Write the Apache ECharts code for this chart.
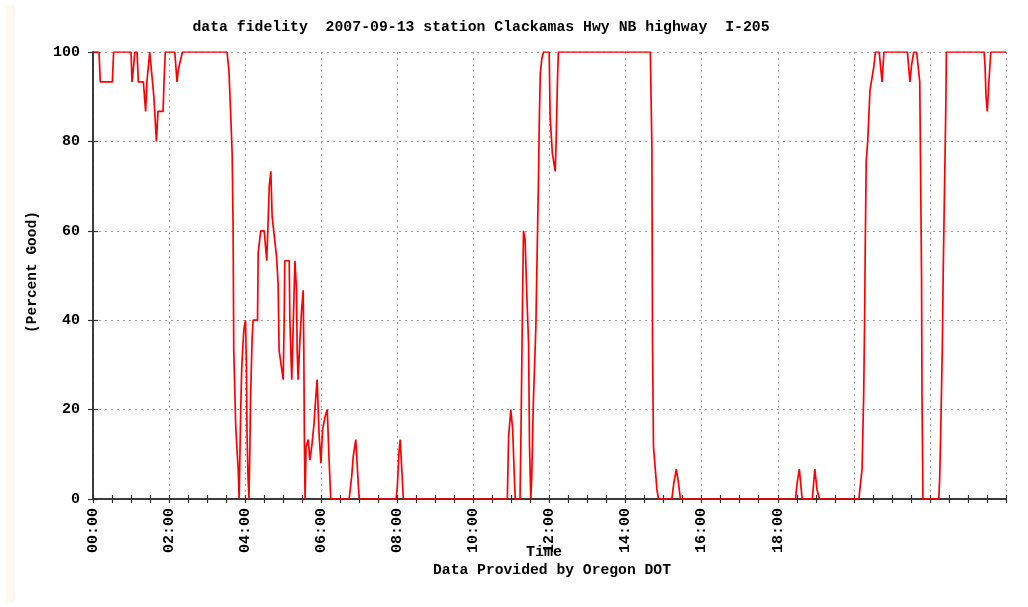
<!DOCTYPE html>
<html lang="en">
<head>
<meta charset="UTF-8">
<title>data fidelity</title>
<script src="https://cdn.jsdelivr.net/npm/echarts@6/dist/echarts.min.js"></script>
<style>
    html, body { margin: 0; padding: 0; background: #fff; }
    #main { width: 1028px; height: 607px; }
</style>
</head>
<body>
<div id="main"></div>
<script>
    // minutes after midnight
    let timeMin = [
        0, 9.5, 11.5, 30.5, 32.5, 60, 61.5, 63.5, 66, 69.5, 71.5, 79.5, 83, 85, 89.5, 92, 96, 100,
        102.5, 110.5, 112, 114, 129, 132.5, 134.5, 141,
        211.5, 214.5, 217, 219.5, 221, 222, 225, 227.5, 229, 230.5, 233, 234.5, 236, 238, 240.5,
        242, 243, 244.5, 246, 247.5, 248.5, 251, 252.5, 259.5, 260.5, 264.5, 270, 274, 276.5, 278,
        280.5, 282.5, 286, 289.5, 292, 293.5, 300, 301.5, 302.5, 309.5, 310.5, 313.5, 316, 318.5,
        321, 322, 323.5, 326.5, 329, 331.5, 332.5, 333.5, 334.5, 336, 339.5, 342, 345, 348.5, 351,
        353.5, 356.5, 359.5, 362, 366, 369.5, 372, 375,
        404, 408, 410.5, 414.5, 418.5, 420,
        478, 480, 482.5, 484.5, 487, 489.5,
        653.5, 655.5, 659, 662, 664.5, 666, 673.5, 675, 677.5, 679, 681.5, 684.5, 687, 688.5, 690.5,
        692, 694.5, 698.5, 700, 702.5, 704, 705.5, 708, 710.5, 719.5, 721, 724.5, 729, 730.5, 732.5, 734,
        879, 881.5, 882.5, 884, 887, 889.5, 892,
        913, 916, 920, 923.5, 926.5,
        1108, 1110.5, 1114, 1118.5, 1134.5, 1138.5, 1142, 1146,
        1208, 1210.5, 1213, 1215.5, 1217, 1218, 1219.5, 1222, 1225.5, 1229, 1231.5, 1234,
        1240, 1244.5, 1247.5, 1284.5, 1288.5, 1291, 1294.5, 1299, 1301.5, 1304, 1305.5, 1306.8, 1307.5, 1309,
        1334, 1335.5, 1337, 1339.5, 1341, 1342, 1345, 1346,
        1405.5, 1407, 1408.5, 1410.5, 1413, 1416, 1440
    ];
    let pctGood = [
        100, 100, 93.3, 93.3, 100, 100, 93.3, 96, 100, 100, 93.3, 93.3, 86.7, 93.3, 100, 100, 90, 80,
        86.7, 86.7, 93.3, 100, 100, 93.3, 96, 100,
        100, 95.6, 86.7, 77.3, 60, 33.3, 16.7, 10, 6.7, 0, 20, 29, 33.3, 38, 40,
        30, 14, 5, 0, 12, 22.6, 36, 40, 40, 55, 60, 60, 53.3, 63.3, 70,
        73.3, 63.3, 58.7, 54.2, 48, 33.3, 26.7, 40, 53.3, 53.3, 40, 26.7, 40, 53.3,
        46.7, 33.3, 26.7, 36, 42.3, 46.7, 33.3, 11.7, 0, 11.7, 13.3, 8.7, 11.7, 16.7, 22,
        26.7, 14.7, 8, 15.4, 18.4, 20, 10, 0,
        0, 5, 9.6, 13.3, 3, 0,
        0, 2.7, 10.2, 13.3, 6.7, 0,
        0, 14, 20, 15.4, 5, 0, 0, 14.7, 44.5, 60, 58, 44.5, 34.8, 11.7, 0,
        5, 21.4, 38.5, 51, 70.6, 85.5, 95.2, 98.6, 100, 100, 85.5, 77.3, 73.3, 80, 93.3, 100,
        100, 78.8, 34.8, 11.7, 6.5, 2, 0,
        0, 3.5, 6.7, 3.5, 0,
        0, 3.5, 6.7, 0, 0, 6.7, 2, 0,
        0, 3.5, 6.7, 23, 40, 56.4, 75.5, 80.3, 91.5, 94.5, 96.7, 100,
        100, 93.3, 100, 100, 93.3, 97, 100, 100, 96.7, 93.3, 70, 50, 23.6, 0,
        0, 5, 14.7, 33.3, 51, 60, 87, 100,
        100, 96.7, 90, 86.7, 93.3, 100, 100
    ];
    // only these hours carry a label on the original
    let xTickLabels = ['00:00', '02:00', '04:00', '06:00', '08:00', '10:00', '12:00', '14:00', '16:00', '18:00'];

    const monoFont = 'Liberation Mono';
    const axisColor = '#303030';
    const gridColor = '#a0a0a0';

    let lineData = timeMin.map((t, i) => [t, pctGood[i]]);

    function xAxisCfg(pos, withLabels) {
        return {
            type: 'value',
            position: pos,
            min: 0,
            max: 1440,
            interval: 120,
            axisLine: { show: true, lineStyle: { color: axisColor, width: 1.5 } },
            axisTick: { show: true, inside: true, length: 4, lineStyle: { color: axisColor, width: 1.2 } },
            minorTick: { show: true, splitNumber: 4, length: 4, lineStyle: { color: axisColor, width: 1.2 } },
            splitLine: { show: withLabels, lineStyle: { color: gridColor, type: [2, 4], width: 1 } },
            axisLabel: {
                show: withLabels,
                rotate: 90,
                margin: 9,
                color: '#000',
                fontFamily: monoFont,
                fontWeight: 'bold',
                fontSize: 15,
                formatter: v => xTickLabels[Math.round(v / 120)] || ''
            }
        };
    }

    function yAxisCfg(pos, withLabels) {
        return {
            type: 'value',
            position: pos,
            min: 0,
            max: 100,
            interval: 20,
            axisLine: { show: true, lineStyle: { color: axisColor, width: 1.5 } },
            axisTick: { show: true, inside: true, length: 5, lineStyle: { color: axisColor, width: 1.2 } },
            splitLine: { show: withLabels, lineStyle: { color: gridColor, type: [2, 4], width: 1 } },
            axisLabel: {
                show: withLabels,
                margin: 13,
                color: '#000',
                fontFamily: monoFont,
                fontWeight: 'bold',
                fontSize: 15
            }
        };
    }

    let textStyle = (txt, size) => ({
        text: txt,
        fill: '#000',
        font: 'bold ' + size + 'px "' + monoFont + '"',
        textAlign: 'center',
        textVerticalAlign: 'middle'
    });

    let myChart = echarts.init(document.getElementById('main'));
    let option = {
        animation: false,
        backgroundColor: '#fff',
        grid: { left: 93, right: 22, top: 52, bottom: 108, containLabel: false },
        xAxis: [xAxisCfg('bottom', true), xAxisCfg('top', false)],
        yAxis: [yAxisCfg('left', true), yAxisCfg('right', false)],
        graphic: [
            { type: 'rect', shape: { x: 6, y: 5, width: 9, height: 597 }, style: { fill: '#fff8f0' }, silent: true },
            { type: 'text', x: 481, y: 27, style: textStyle('data fidelity  2007-09-13 station Clackamas Hwy NB highway  I-205', 14.8) },
            { type: 'text', x: 32, y: 272, rotation: Math.PI / 2, style: textStyle('(Percent Good)', 14.5) },
            { type: 'text', x: 544, y: 552, style: textStyle('Time', 15) },
            { type: 'text', x: 552, y: 570, style: textStyle('Data Provided by Oregon DOT', 14.7) }
        ],
        series: [{
            type: 'line',
            xAxisIndex: 0,
            yAxisIndex: 0,
            data: lineData,
            showSymbol: false,
            symbol: 'none',
            lineStyle: { color: '#ff0000', width: 1.7 },
            z: 3
        }]
    };
    myChart.setOption(option);
</script>
</body>
</html>
